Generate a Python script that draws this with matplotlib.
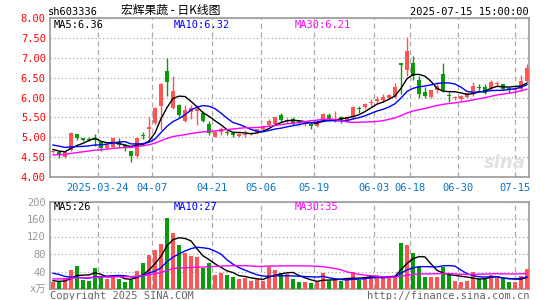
import numpy as np
import matplotlib.pyplot as plt

plt.rcParams['font.family'] = ['DejaVu Sans Mono', 'Noto Sans CJK SC']

# DATA ------------------------------------------------------------

# closes / volumes before the visible window, only used to seed the MAs
pre_close = [
    4.35, 4.38, 4.40, 4.36, 4.33, 4.30, 4.32, 4.35, 4.38, 4.40,
    4.42, 4.45, 4.43, 4.40, 4.44, 4.48, 4.50, 4.55, 4.62, 4.70,
    4.85, 4.95, 4.98, 4.92, 4.88, 4.78, 4.72, 4.68, 4.62,
]
pre_vol = [
    15, 18, 14, 16, 20, 17, 15, 13, 16, 18,
    17, 15, 14, 19, 16, 18, 17, 15, 20, 17,
    45, 70, 62, 50, 38, 25, 20, 18, 15,
]

opens = [
    4.62, 4.63, 4.51, 4.68, 5.07, 4.98, 4.95, 4.94, 4.88, 4.72,
    4.76, 4.88, 4.80, 4.65, 4.52, 5.04, 5.20, 5.36, 5.78, 6.66,
    5.74, 5.80, 5.42, 5.63, 5.66, 5.60, 5.33, 5.01, 5.12, 5.13,
    5.11, 5.02, 5.06, 5.08, 5.13, 5.20, 5.30, 5.34, 5.55, 5.42,
    5.47, 5.40, 5.35, 5.34, 5.29, 5.42, 5.55, 5.43, 5.51, 5.43,
    5.52, 5.72, 5.76, 5.87, 5.91, 5.94, 6.00, 6.01, 6.86, 6.69,
    6.88, 6.44, 6.13, 6.01, 6.19, 6.59, 6.05, 5.99, 5.95, 6.02,
    6.09, 6.26, 6.26, 6.24, 6.34, 6.34, 6.24, 6.19, 6.22, 6.42,
]
highs = [
    4.68, 4.65, 4.64, 5.12, 5.08, 4.99, 5.00, 5.07, 4.90, 4.82,
    4.98, 4.97, 4.82, 4.66, 5.00, 5.13, 5.50, 5.76, 6.36, 7.00,
    6.53, 5.84, 5.80, 5.82, 5.82, 5.66, 5.40, 5.16, 5.25, 5.18,
    5.12, 5.10, 5.17, 5.13, 5.22, 5.32, 5.45, 5.52, 5.60, 5.48,
    5.52, 5.42, 5.41, 5.36, 5.40, 5.62, 5.62, 5.67, 5.53, 5.53,
    5.78, 5.78, 5.87, 5.95, 6.05, 6.08, 6.08, 6.36, 6.87, 7.53,
    7.05, 6.55, 6.26, 6.20, 6.40, 6.87, 6.15, 6.04, 6.06, 6.12,
    6.40, 6.35, 6.33, 6.44, 6.42, 6.35, 6.27, 6.28, 6.56, 6.84,
]
lows = [
    4.60, 4.49, 4.48, 4.66, 4.93, 4.91, 4.90, 4.78, 4.66, 4.70,
    4.74, 4.76, 4.66, 4.38, 4.48, 4.95, 4.98, 5.30, 5.18, 6.05,
    5.72, 5.50, 5.38, 5.45, 5.32, 5.39, 5.06, 5.00, 5.05, 5.06,
    5.00, 5.00, 5.00, 5.06, 5.11, 5.18, 5.28, 5.30, 5.38, 5.36,
    5.32, 5.32, 5.28, 5.21, 5.26, 5.38, 5.41, 5.39, 5.35, 5.38,
    5.45, 5.60, 5.72, 5.78, 5.85, 5.88, 5.97, 5.98, 6.10, 6.55,
    6.45, 6.00, 6.00, 5.99, 6.12, 6.15, 5.88, 5.93, 5.92, 5.99,
    6.05, 6.17, 6.08, 6.20, 6.28, 6.18, 6.12, 6.08, 6.17, 6.38,
]
closes = [
    4.66, 4.58, 4.63, 5.11, 4.99, 4.93, 4.93, 4.92, 4.72, 4.80,
    4.97, 4.80, 4.73, 4.53, 4.99, 5.02, 5.25, 5.74, 6.34, 6.38,
    6.16, 5.55, 5.69, 5.74, 5.70, 5.41, 5.10, 5.13, 5.22, 5.11,
    5.05, 5.09, 5.08, 5.11, 5.21, 5.28, 5.42, 5.50, 5.43, 5.44,
    5.35, 5.36, 5.39, 5.28, 5.38, 5.59, 5.47, 5.45, 5.42, 5.50,
    5.76, 5.70, 5.84, 5.89, 5.97, 6.02, 6.06, 6.26, 6.83, 7.18,
    6.55, 6.09, 6.03, 6.19, 6.30, 6.19, 6.03, 6.01, 6.05, 6.11,
    6.28, 6.24, 6.12, 6.40, 6.36, 6.22, 6.21, 6.21, 6.42, 6.75,
]
volumes = [
    17, 17, 25, 44, 52, 21, 19, 49, 27, 23,
    27, 23, 17, 21, 42, 59, 78, 90, 104, 163,
    128, 101, 82, 76, 73, 47, 59, 33, 36, 32,
    28, 23, 25, 19, 23, 19, 51, 44, 36, 35,
    23, 17, 17, 13, 17, 36, 19, 21, 19, 25,
    38, 21, 27, 30, 30, 27, 27, 30, 106, 101,
    82, 51, 27, 27, 27, 51, 33, 18, 17, 18,
    39, 22, 22, 33, 25, 23, 17, 17, 30, 45,
]

date_labels = ['2025-03-24', '04-07', '04-21', '05-06', '05-19',
               '06-03', '06-18', '06-30', '07-15']
date_pos = [7.5, 16.5, 26.5, 34.7, 43.5, 53.5, 59.5, 67.5, 77.0]

# HELPERS ---------------------------------------------------------

RED = '#FF5555'
GREEN = '#0A9A0A'


def moving_avg(history, values, n):
    full = np.array(history + values, dtype=float)
    out = np.convolve(full, np.ones(n) / n, mode='valid')
    return out[-len(values):]


def style_axes(ax):
    for s in ax.spines.values():
        s.set_color('#999999')
        s.set_linewidth(1.2)
    ax.set_xlim(-0.5, 79.35)
    ax.set_xticks(date_pos)
    ax.xaxis.grid(True, linestyle=(0, (4, 3)), color='#aaaaaa', lw=0.9)
    ax.yaxis.grid(True, linestyle=(0, (1, 2)), color='#aaaaaa', lw=0.9)
    ax.set_axisbelow(True)
    ax.tick_params(length=0)


# PLOTTING --------------------------------------------------------

o = np.array(opens)
c = np.array(closes)
x = np.arange(len(closes))
cols = np.where(c >= o, RED, GREEN)

fig = plt.figure(figsize=(5.45, 3.0), dpi=100)
ax = fig.add_axes([50 / 545, 123 / 300, 479 / 545, 159 / 300])
axv = fig.add_axes([50 / 545, 11 / 300, 479 / 545, 87.5 / 300])

# ---- price panel ----
ax.vlines(x, lows, highs, colors=cols, lw=1, zorder=2)
ax.bar(x, np.maximum(np.abs(c - o), 0.025), bottom=np.minimum(o, c),
       width=0.8, color=cols, lw=0, zorder=3)

ma_cols = {5: 'black', 10: '#0000FF', 30: '#FF00FF'}
pma = {n: moving_avg(pre_close, closes, n) for n in ma_cols}
for n, col in ma_cols.items():
    ax.plot(x, pma[n], color=col, lw=1, zorder=4)

style_axes(ax)
ax.set_ylim(4, 8)
ticks = np.arange(4, 8.01, 0.5)
ax.set_yticks(ticks, [f'{t:.2f}' for t in ticks])
ax.set_xticklabels(date_labels)
ax.tick_params(axis='y', labelcolor='#FF0000', labelsize=7.5, pad=3)
ax.tick_params(axis='x', labelcolor='#0A72C6', labelsize=7.5, pad=4)

for xf, n in zip([0.008, 0.259, 0.51], ma_cols):
    ax.text(xf, 0.955, f'MA{n}:{pma[n][-1]:.2f}', color=ma_cols[n],
            fontsize=7.5, transform=ax.transAxes, va='center')

ax.text(0.95, 0.085, 'sina', color='#e2e2e2', fontsize=13, style='italic',
        weight='bold', family='DejaVu Sans', transform=ax.transAxes,
        ha='center', va='center', zorder=1)

# ---- volume panel ----
axv.bar(x, volumes, width=0.8, color=cols, lw=0, zorder=3)
vma = {n: moving_avg(pre_vol, volumes, n) for n in ma_cols}
for n, col in ma_cols.items():
    axv.plot(x, vma[n], color=col, lw=1, zorder=4)

style_axes(axv)
axv.set_ylim(0, 200)
axv.set_yticks([0, 40, 80, 120, 160, 200],
               ['x万', '40', '80', '120', '160', '200'])
axv.set_xticklabels([])
axv.tick_params(axis='y', labelcolor='#999999', labelsize=7.5, pad=3)

for xf, n in zip([0.008, 0.259, 0.51], ma_cols):
    axv.text(xf, 0.935, f'MA{n}:{vma[n][-1]:.0f}', color=ma_cols[n],
             fontsize=7.5, transform=axv.transAxes, va='center')

# ---- header / footer ----
fig.text(48 / 545, 1 - 12 / 300, 'sh603336', fontsize=7.5, va='center')
fig.text(121 / 545, 1 - 10 / 300, '宏辉果蔬 - 日K线图', fontsize=8.5,
         va='center', family=['Noto Sans CJK SC', 'DejaVu Sans'])
fig.text(529 / 545, 1 - 12 / 300, '2025-07-15 15:00:00', fontsize=7.5,
         va='center', ha='right')
fig.text(50 / 545, 4 / 300, 'Copyright 2025 SINA.COM', fontsize=7.5,
         va='center', color='#666666')
fig.text(529 / 545, 4 / 300, 'http://finance.sina.com.cn', fontsize=7.5,
         va='center', ha='right', color='#666666')

fig.savefig('out.png', dpi=100)
